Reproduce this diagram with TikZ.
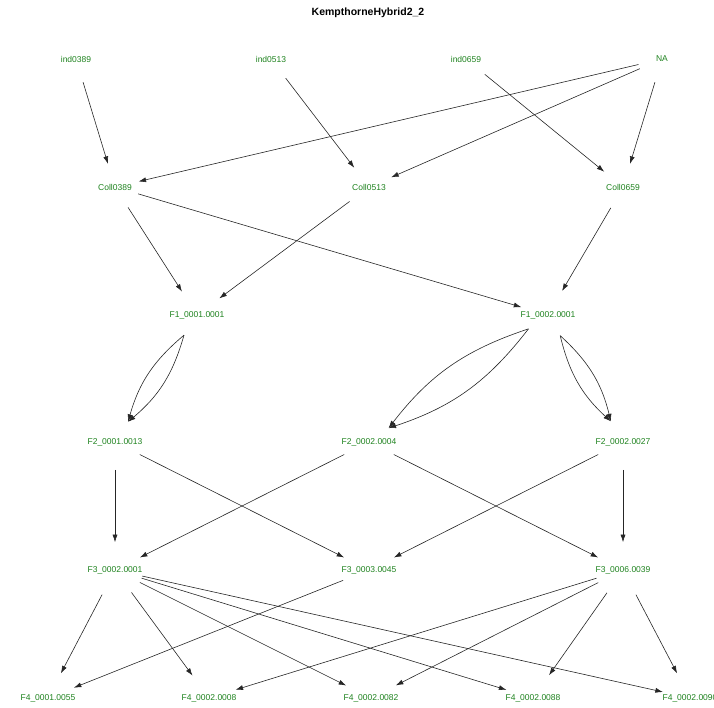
\documentclass[tikz,border=0pt]{standalone}
\usepackage{fontspec}
\setmainfont{Liberation Sans}
\usetikzlibrary{arrows.meta,calc}
\definecolor{lbl}{RGB}{30,130,30}
\begin{document}
\begin{tikzpicture}[x=1pt,y=-1pt,
  nd/.style={circle,minimum size=48pt,inner sep=0pt,text=lbl,font=\fontsize{8.5}{10}\selectfont},
  ed/.style={-{Latex[length=7.5pt,width=5pt]},line width=0.6pt,draw=black!85},
  dbl/.style={ed}]
\useasboundingbox (0,0) rectangle (714,707);
\clip (0,0) rectangle (714,707);
\node[font=\bfseries\fontsize{10.5}{12}\selectfont] (title) at (368,13) {KempthorneHybrid2\_2};
% row 0
\node[nd] (i389) at (76,59) {ind0389};
\node[nd] (i513) at (271,59) {ind0513};
\node[nd] (i659) at (466,59) {ind0659};
\node[nd] (NA) at (662,59) {NA};
% row 1
\node[nd] (c389) at (115,187) {Coll0389};
\node[nd] (c513) at (369,187) {Coll0513};
\node[nd] (c659) at (623,187) {Coll0659};
% row 2
\node[nd] (f1a) at (197,315) {F1\_0001.0001};
\node[nd] (f1b) at (548,315) {F1\_0002.0001};
% row 3
\node[nd] (f2a) at (115,442) {F2\_0001.0013};
\node[nd] (f2b) at (369,442) {F2\_0002.0004};
\node[nd] (f2c) at (623,442) {F2\_0002.0027};
% row 4
\node[nd] (f3a) at (115,570) {F3\_0002.0001};
\node[nd] (f3b) at (369,570) {F3\_0003.0045};
\node[nd] (f3c) at (623,570) {F3\_0006.0039};
% row 5
\node[nd] (f4a) at (48,698) {F4\_0001.0055};
\node[nd] (f4b) at (209,698) {F4\_0002.0008};
\node[nd] (f4c) at (371,698) {F4\_0002.0082};
\node[nd] (f4d) at (533,698) {F4\_0002.0088};
\node[nd] (f4e) at (690,698) {F4\_0002.0090};
% edges
\draw[ed] (i389) -- (c389);
\draw[ed] (i513) -- (c513);
\draw[ed] (i659) -- (c659);
\draw[ed] (NA) -- (c389);
\draw[ed] (NA) -- (c513);
\draw[ed] (NA) -- (c659);
\draw[ed] (c389) -- (f1a);
\draw[ed] (c389) -- (f1b);
\draw[ed] (c513) -- (f1a);
\draw[ed] (c659) -- (f1b);
% double edges
\coordinate (s1) at ($(f1a)!24pt!(f2a)$);
\coordinate (e1) at ($(f2a)!24pt!(f1a)$);
\draw[dbl] (s1) to[bend left=17] (e1);
\draw[dbl] (s1) to[bend right=17] (e1);
\coordinate (s2) at ($(f1b)!24pt!(f2b)$);
\coordinate (e2) at ($(f2b)!24pt!(f1b)$);
\draw[dbl] (s2) to[bend left=17] (e2);
\draw[dbl] (s2) to[bend right=17] (e2);
\coordinate (s3) at ($(f1b)!24pt!(f2c)$);
\coordinate (e3) at ($(f2c)!24pt!(f1b)$);
\draw[dbl] (s3) to[bend left=17] (e3);
\draw[dbl] (s3) to[bend right=17] (e3);
% F2 -> F3
\draw[ed] (f2a) -- (f3a);
\draw[ed] (f2a) -- (f3b);
\draw[ed] (f2b) -- (f3a);
\draw[ed] (f2b) -- (f3c);
\draw[ed] (f2c) -- (f3b);
\draw[ed] (f2c) -- (f3c);
% F3 -> F4
\draw[ed] (f3a) -- (f4a);
\draw[ed] (f3a) -- (f4b);
\draw[ed] (f3a) -- (f4c);
\draw[ed] (f3a) -- (f4d);
\draw[ed] (f3a) -- (f4e);
\draw[ed] (f3b) -- (f4a);
\draw[ed] (f3c) -- (f4b);
\draw[ed] (f3c) -- (f4c);
\draw[ed] (f3c) -- (f4d);
\draw[ed] (f3c) -- (f4e);
\end{tikzpicture}
\end{document}
